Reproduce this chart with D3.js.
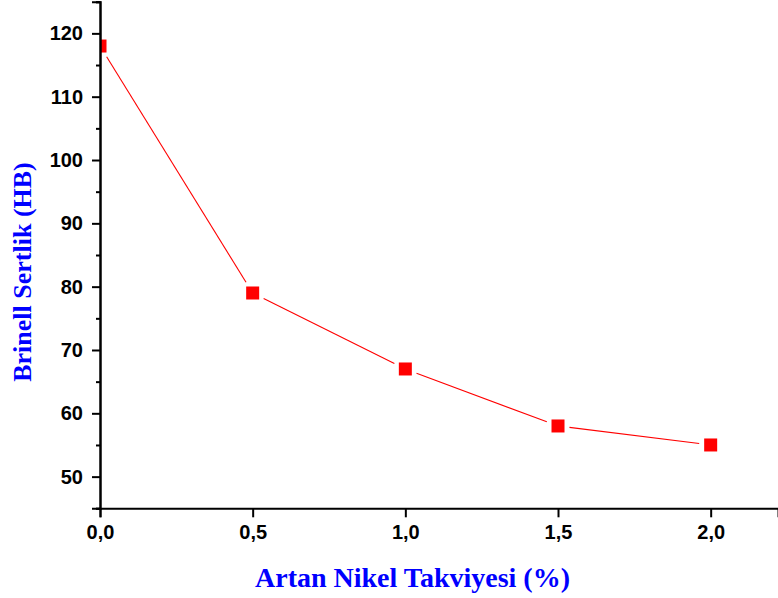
<!DOCTYPE html>
<html>
<head>
<meta charset="utf-8">
<script src="https://cdn.jsdelivr.net/npm/d3@7"></script>
<style>
  html, body { margin: 0; padding: 0; background: #fff; }
  svg { display: block; }
</style>
</head>
<body>
<svg id="chart" width="778" height="598"></svg>
<script>
// ---- data ----
const nickel = [0.0, 0.5, 1.0, 1.5, 2.0];
const hardness = [118, 79, 67, 58, 55];
const xTicks = [0.0, 0.5, 1.0, 1.5, 2.0];
const yTicks = [50, 60, 70, 80, 90, 100, 110, 120];
const yMinorTicks = [45, 55, 65, 75, 85, 95, 105, 115, 125];
const xTitle = "Artan Nikel Takviyesi (%)";
const yTitle = "Brinell Sertlik (HB)";

(function () {
const svg = d3.select("#chart");
const pLeft = 100, pRight = 778, pTop = 1.7, pBottom = 508.3;

const x = d3.scaleLinear().domain([0, 2.2205]).range([pLeft, pRight]);
const y = d3.scaleLinear().domain([45, 125]).range([pBottom, pTop]);

const fmt = d => d3.format(".1f")(d).replace(".", ",");

svg.append("defs").append("clipPath").attr("id", "plotclip")
  .append("rect").attr("x", pLeft).attr("y", 0).attr("width", pRight - pLeft).attr("height", pBottom);

const pts = nickel.map((v, i) => ({ x: x(v), y: y(hardness[i]) }));
const half = 6.5, gap = 5;

const plot = svg.append("g").attr("clip-path", "url(#plotclip)");

const segs = [];
for (let i = 0; i < pts.length - 1; i++) {
  const a = pts[i], b = pts[i + 1];
  const dx = b.x - a.x, dy = b.y - a.y, L = Math.hypot(dx, dy);
  const ux = dx / L, uy = dy / L;
  const exit = half / Math.max(Math.abs(ux), Math.abs(uy)) + gap;
  segs.push([[a.x + ux * exit, a.y + uy * exit], [b.x - ux * exit, b.y - uy * exit]]);
}
plot.selectAll("line.seg").data(segs).join("line")
  .attr("class", "seg")
  .attr("x1", d => d[0][0]).attr("y1", d => d[0][1])
  .attr("x2", d => d[1][0]).attr("y2", d => d[1][1])
  .attr("stroke", "#ff0000").attr("stroke-width", 1.1);

plot.selectAll("rect.mk").data(nickel).join("rect")
  .attr("class", "mk")
  .attr("x", (d) => x(d) - half)
  .attr("y", (d, i) => y(hardness[i]) - half)
  .attr("width", half * 2).attr("height", half * 2)
  .attr("fill", "#ff0000");

const xAxis = d3.axisBottom(x).tickValues(xTicks).tickFormat(fmt).tickSizeOuter(0).tickSize(9).tickPadding(8);
const yAxis = d3.axisLeft(y).tickValues(yTicks).tickFormat(d3.format("d")).tickSizeOuter(0).tickSize(8).tickPadding(9);
const yMinor = d3.axisLeft(y).tickValues(yMinorTicks).tickFormat("").tickSizeOuter(0).tickSize(4);

function styleAxis(g) {
  g.select(".domain").attr("stroke", "#000").attr("stroke-width", 2);
  g.selectAll(".tick line").attr("stroke", "#000").attr("stroke-width", 2);
  g.selectAll(".tick text")
    .attr("fill", "#000")
    .style("font-family", "'Liberation Sans', Arial, sans-serif")
    .style("font-weight", "bold")
    .style("font-size", "20px");
}

svg.append("g").attr("transform", `translate(${pLeft},0)`).call(yMinor).call(styleAxis);
svg.append("g").attr("transform", `translate(${pLeft},0)`).call(yAxis).call(styleAxis);
svg.append("g").attr("transform", `translate(0,${pBottom})`).call(xAxis).call(styleAxis);

svg.append("text")
  .attr("x", 412.5).attr("y", 586.5)
  .attr("text-anchor", "middle")
  .style("font-family", "'Liberation Serif', 'Times New Roman', serif")
  .style("font-weight", "bold").style("font-size", "28px")
  .attr("fill", "#0000ff")
  .text(xTitle);

svg.append("text")
  .attr("transform", "translate(31,272) rotate(-90)")
  .attr("text-anchor", "middle")
  .style("font-family", "'Liberation Serif', 'Times New Roman', serif")
  .style("font-weight", "bold").style("font-size", "26px")
  .attr("fill", "#0000ff")
  .text(yTitle);
})();
</script>
</body>
</html>
